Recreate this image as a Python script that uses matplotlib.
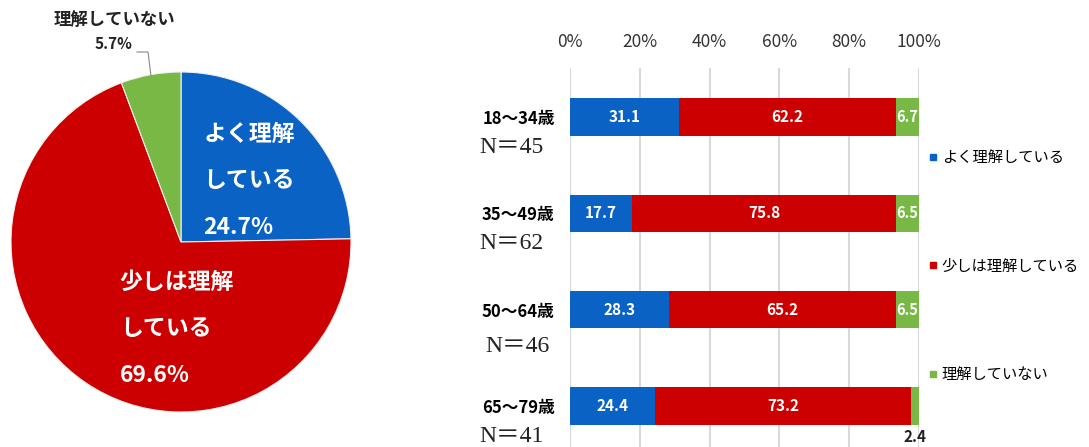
import matplotlib
matplotlib.use("Agg")
import matplotlib.pyplot as plt
from matplotlib.lines import Line2D

plt.rcParams['font.family'] = ['Noto Sans CJK JP', 'DejaVu Sans']

# pie data (overall)
pie_labels = ['よく理解\nしている', '少しは理解\nしている', '理解していない']
pie_vals = [24.7, 69.6, 5.7]

# bar data by age group
groups = ['18～34歳', '35～49歳', '50～64歳', '65～79歳']
n_labels = ['N＝45', 'N＝62', 'N＝46', 'N＝41']
well = [31.1, 17.7, 28.3, 24.4]
some = [62.2, 75.8, 65.2, 73.2]
none_ = [6.7, 6.5, 6.5, 2.4]
series_names = ['よく理解している', '少しは理解している', '理解していない']

BLUE = '#0a63c4'
RED = '#cc0000'
GREEN = '#78b844'
colors = [BLUE, RED, GREEN]

fig = plt.figure(figsize=(10.89, 4.47), dpi=100)

# ---- pie ----
axp = fig.add_axes([11/1089, 35/447, 340/1089, 340/447])
wedges, _ = axp.pie(pie_vals, colors=colors, startangle=90, counterclock=False,
                    wedgeprops=dict(edgecolor='#f0f0f0', linewidth=0.8))
axp.set_xlim(-1, 1)
axp.set_ylim(-1, 1)
axp.set_aspect('equal')

axp.text(0.13, 0.36, pie_labels[0] + '\n' + f'{pie_vals[0]}%', color='white',
         fontsize=16.5, fontweight='bold', ha='left', va='center', linespacing=2.3)
axp.text(-0.36, -0.51, pie_labels[1] + '\n' + f'{pie_vals[1]}%', color='white',
         fontsize=16.5, fontweight='bold', ha='left', va='center', linespacing=2.3)
fig.text(114/1089, 1 - 20/447, pie_labels[2], fontsize=12.5, fontweight='bold',
         ha='center', va='center', color='#222222')
fig.text(113/1089, 1 - 44/447, f'{pie_vals[2]}%', fontsize=11, fontweight='bold',
         ha='center', va='center', color='#222222')
fig.add_artist(Line2D([137/1089, 148/1089, 151/1089],
                      [1 - 52/447, 1 - 52/447, 1 - 76/447],
                      color='#888888', lw=0.8))

# ---- stacked bars ----
axb = fig.add_axes([570/1089, 0, 349/1089, 379/447])
y = list(range(len(groups)))
h = 0.39
left_some = well
left_none = [a + b for a, b in zip(well, some)]
axb.barh(y, well, height=h, color=BLUE, zorder=3)
axb.barh(y, some, left=left_some, height=h, color=RED, zorder=3)
axb.barh(y, none_, left=left_none, height=h, color=GREEN, zorder=3)

axb.set_xlim(0, 100)
axb.set_ylim(3.426, -0.509)
axb.set_xticks([0, 20, 40, 60, 80, 100])
axb.set_xticklabels([f'{t}%' for t in [0, 20, 40, 60, 80, 100]])
axb.xaxis.tick_top()
axb.tick_params(axis='x', length=0, pad=12, labelsize=12.5, labelcolor='#333333')
axb.set_yticks(y)
axb.set_yticklabels(groups, fontweight='bold', fontsize=12)
axb.tick_params(axis='y', length=0, pad=11)
axb.grid(axis='x', color='#d9d9d9', lw=1.5, zorder=0)
for s in axb.spines.values():
    s.set_visible(False)

for i in y:
    axb.text(well[i] / 2, i, f'{well[i]}', color='white', fontsize=11,
             fontweight='bold', ha='center', va='center', zorder=4)
    axb.text(left_some[i] + some[i] / 2, i, f'{some[i]}', color='white', fontsize=11,
             fontweight='bold', ha='center', va='center', zorder=4)
    if none_[i] > 5:
        axb.text(left_none[i] + none_[i] / 2, i, f'{none_[i]}', color='white', fontsize=10.5,
                 fontweight='bold', ha='center', va='center', zorder=4, clip_on=True)
    else:
        axb.text(left_none[i] + none_[i] / 2, i + 0.32, f'{none_[i]}', color='#222222',
                 fontsize=11, fontweight='bold', ha='center', va='center', zorder=4)

n_off = [0.32, 0.31, 0.38, 0.32]
n_x = [-0.26, -0.26, -0.243, -0.26]
for i in y:
    axb.text(n_x[i], i + n_off[i], n_labels[i], transform=axb.get_yaxis_transform(),
             fontsize=17, family=['Liberation Serif', 'Noto Sans CJK JP'],
             ha='left', va='center', color='#222222')

handles = [Line2D([], [], marker='s', color=c, ls='', markersize=5) for c in colors]
fig.legend(handles, series_names, loc='upper left', bbox_to_anchor=(922/1089, 1 - 143/447),
           frameon=False, fontsize=11, handlelength=0.6, handletextpad=0.3,
           labelspacing=6.0, borderaxespad=0)

fig.savefig('out.png', dpi=100)
